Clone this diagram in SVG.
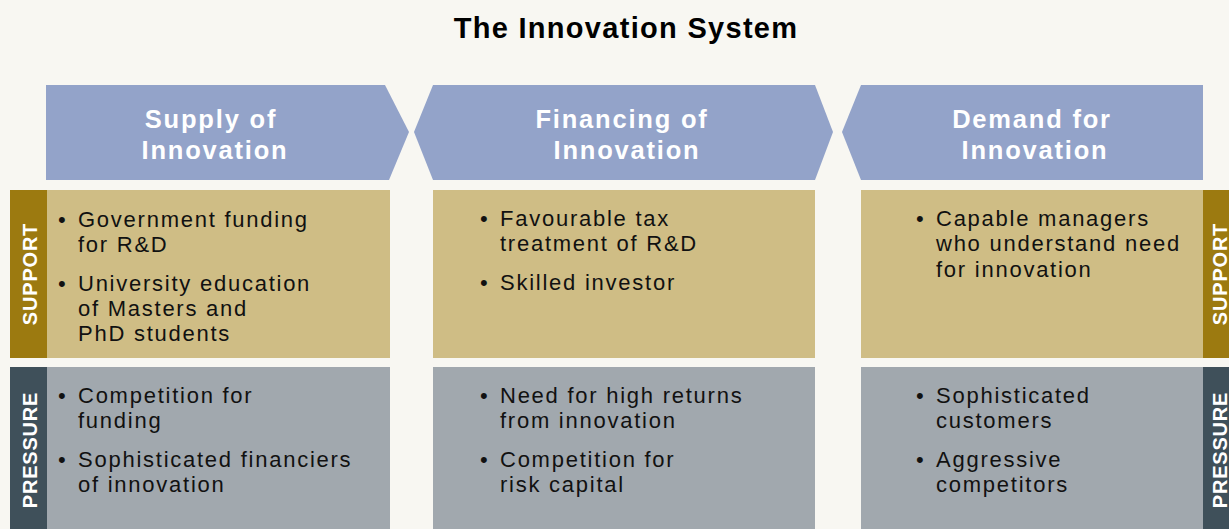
<svg xmlns="http://www.w3.org/2000/svg" width="1229" height="529" viewBox="0 0 1229 529">
<style>
  .title{font-family:"Liberation Sans",Arial,sans-serif;font-weight:bold;font-size:29px;letter-spacing:1.3px;fill:#000;text-anchor:middle}
  .hdr{fill:#93a3c9}
  .htxt{font-family:"Liberation Sans",Arial,sans-serif;font-weight:bold;font-size:25.5px;letter-spacing:1.8px;fill:#fff;text-anchor:middle}
  .sup{fill:#cfbd85}
  .supbar{fill:#9c7a10}
  .pre{fill:#a1a8ae}
  .prebar{fill:#3f505a}
  .body{font-family:"Liberation Sans",Arial,sans-serif;font-size:22px;letter-spacing:1.75px;fill:#111}
  .side{font-family:"Liberation Sans",Arial,sans-serif;font-weight:bold;font-size:20px;letter-spacing:0.8px;fill:#fff;text-anchor:middle}
</style>
<rect x="0" y="0" width="1229" height="529" fill="#f8f7f2"/>
<g id="title"><text class="title" x="626" y="38">The Innovation System</text></g>

<g id="header-supply">
  <polygon class="hdr" points="46,85 385,85 409,132 389,180 46,180"/>
  <text class="htxt" x="211" y="128">Supply of</text>
  <text class="htxt" x="215" y="159">Innovation</text>
</g>
<g id="header-financing">
  <polygon class="hdr" points="433,85 815,85 833,132 815,180 433,180 414,132"/>
  <text class="htxt" x="622" y="128">Financing of</text>
  <text class="htxt" x="627" y="159">Innovation</text>
</g>
<g id="header-demand">
  <polygon class="hdr" points="861,85 1203,85 1203,180 861,180 842,132"/>
  <text class="htxt" x="1032" y="128">Demand for</text>
  <text class="htxt" x="1035" y="159">Innovation</text>
</g>

<g id="label-support-left">
  <rect class="supbar" x="10" y="190" width="37" height="168"/>
  <text class="side" transform="translate(37,274) rotate(-90)">SUPPORT</text>
</g>
<g id="label-pressure-left">
  <rect class="prebar" x="10" y="367" width="37" height="162"/>
  <text class="side" transform="translate(37,450) rotate(-90)">PRESSURE</text>
</g>
<g id="label-support-right">
  <rect class="supbar" x="1203" y="190" width="26" height="168"/>
  <text class="side" transform="translate(1227,274) rotate(-90)">SUPPORT</text>
</g>
<g id="label-pressure-right">
  <rect class="prebar" x="1203" y="367" width="26" height="162"/>
  <text class="side" transform="translate(1227,450) rotate(-90)">PRESSURE</text>
</g>

<g id="supply-support">
  <rect class="sup" x="47" y="190" width="343" height="168"/>
  <text class="body" x="58" y="227">•</text>
  <text class="body" x="78" y="227">Government funding</text>
  <text class="body" x="78" y="252">for R&amp;D</text>
  <text class="body" x="58" y="291">•</text>
  <text class="body" x="78" y="291">University education</text>
  <text class="body" x="78" y="316">of Masters and</text>
  <text class="body" x="78" y="341">PhD students</text>
</g>
<g id="financing-support">
  <rect class="sup" x="433" y="190" width="382" height="168"/>
  <text class="body" x="480" y="226">•</text>
  <text class="body" x="500" y="226">Favourable tax</text>
  <text class="body" x="500" y="251">treatment of R&amp;D</text>
  <text class="body" x="480" y="290">•</text>
  <text class="body" x="500" y="290">Skilled investor</text>
</g>
<g id="demand-support">
  <rect class="sup" x="861" y="190" width="342" height="168"/>
  <text class="body" x="916" y="226">•</text>
  <text class="body" x="936" y="226">Capable managers</text>
  <text class="body" x="936" y="251">who understand need</text>
  <text class="body" x="936" y="277">for innovation</text>
</g>

<g id="supply-pressure">
  <rect class="pre" x="47" y="367" width="343" height="162"/>
  <text class="body" x="58" y="403">•</text>
  <text class="body" x="78" y="403">Competition for</text>
  <text class="body" x="78" y="428">funding</text>
  <text class="body" x="58" y="467">•</text>
  <text class="body" x="78" y="467">Sophisticated financiers</text>
  <text class="body" x="78" y="492">of innovation</text>
</g>
<g id="financing-pressure">
  <rect class="pre" x="433" y="367" width="382" height="162"/>
  <text class="body" x="480" y="403">•</text>
  <text class="body" x="500" y="403">Need for high returns</text>
  <text class="body" x="500" y="428">from innovation</text>
  <text class="body" x="480" y="467">•</text>
  <text class="body" x="500" y="467">Competition for</text>
  <text class="body" x="500" y="492">risk capital</text>
</g>
<g id="demand-pressure">
  <rect class="pre" x="861" y="367" width="342" height="162"/>
  <text class="body" x="916" y="403">•</text>
  <text class="body" x="936" y="403">Sophisticated</text>
  <text class="body" x="936" y="428">customers</text>
  <text class="body" x="916" y="467">•</text>
  <text class="body" x="936" y="467">Aggressive</text>
  <text class="body" x="936" y="492">competitors</text>
</g>
<g id="connectors"/>
</svg>
